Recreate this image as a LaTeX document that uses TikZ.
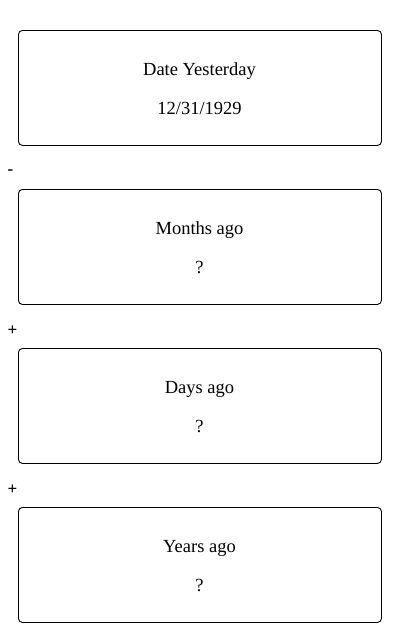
\documentclass[tikz,border=0pt]{standalone}
\usepackage{fontspec}
\setmainfont{Liberation Serif}
\begin{document}
\begin{tikzpicture}[x=1pt,y=-1pt,
  card/.style={draw=black, line width=0.9pt, rounded corners=4pt, minimum width=363pt, minimum height=115pt, anchor=north west, inner sep=0pt},
  lbl/.style={font=\fontsize{18.5}{20}\selectfont, inner sep=0pt},
  sign/.style={font=\fontsize{17}{18}\selectfont, inner sep=0pt}]
\useasboundingbox (0,0) rectangle (400,633);
\node[card] (b1) at (18,30) {};
\node[card] (b2) at (18,189) {};
\node[card] (b3) at (18,348) {};
\node[card] (b4) at (18,507) {};
\node[lbl] (t1) at (199.5,71.5) {Date Yesterday};
\node[lbl] (v1) at (199.5,108.5) {12/31/1929};
\node[lbl] (t2) at (199.5,230.5) {Months ago};
\node[lbl] (v2) at (199.5,267.5) {?};
\node[lbl] (t3) at (199.5,389.5) {Days ago};
\node[lbl] (v3) at (199.5,426.5) {?};
\node[lbl] (t4) at (199.5,548.5) {Years ago};
\node[lbl] (v4) at (199.5,585.5) {?};
\node[sign] (s1) at (10.5,172.5) {\bfseries -};
\node[sign] (s2) at (12.5,331) {\bfseries +};
\node[sign] (s3) at (12.5,490) {\bfseries +};
\end{tikzpicture}
\end{document}
